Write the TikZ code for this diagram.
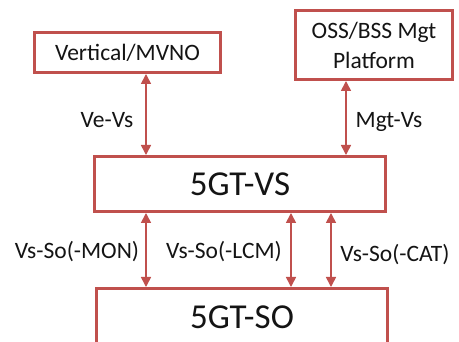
\documentclass[tikz,border=0pt]{standalone}
\usepackage{fontspec}
\setmainfont{Carlito}
\usetikzlibrary{arrows.meta}
\definecolor{boxred}{RGB}{192,80,77}
\definecolor{ink}{RGB}{20,20,20}
\tikzset{
  blk/.style={draw=boxred, line width=3pt, fill=white, text=ink,
    inner sep=0pt, align=center},
  smalltxt/.style={font=\fontsize{23.5}{30}\selectfont},
  bigtxt/.style={font=\fontsize{35}{40}\selectfont},
  link/.style={draw=boxred, line width=1.6pt,
    {Triangle[length=10pt,width=10pt]}-{Triangle[length=10pt,width=10pt]}},
  lbl/.style={smalltxt, text=ink, inner sep=0pt}
}
\begin{document}
\begin{tikzpicture}[x=1pt,y=-1pt]
\clip (0,0) rectangle (459,342);
\fill[white] (0,0) rectangle (459,342);

% blocks
\node[blk, smalltxt, minimum width=186pt, minimum height=40pt] (vert) at (127.5,52.5) {Vertical/MVNO};
\node[blk, smalltxt, minimum width=157pt, minimum height=69pt] (oss) at (374,45) {OSS/BSS Mgt\\Platform};
\node[blk, bigtxt, minimum width=291pt, minimum height=55pt] (vs) at (240,184) {5GT-VS};
\node[blk, bigtxt, minimum width=291pt, minimum height=58pt] (so) at (242,317.5) {5GT-SO};

% connector columns
\coordinate (c1) at (146,0);
\coordinate (c2) at (346,0);
\coordinate (c3) at (291,0);
\coordinate (c4) at (331,0);

% interfaces
\draw[link] (vert.south -| c1) -- (vs.north -| c1);
\draw[link] (oss.south -| c2) -- (vs.north -| c2);
\draw[link] (vs.south -| c1) -- (so.north -| c1);
\draw[link] (vs.south -| c3) -- (so.north -| c3);
\draw[link] (vs.south -| c4) -- (so.north -| c4);

% interface labels
\node[lbl] (l1) at (107,120) {Ve-Vs};
\node[lbl] (l2) at (389,122) {Mgt-Vs};
\node[lbl] (l3) at (77,252) {Vs-So(-MON)};
\node[lbl] (l4) at (224,252) {Vs-So(-LCM)};
\node[lbl] (l5) at (395,255) {Vs-So(-CAT)};
\end{tikzpicture}
\end{document}
